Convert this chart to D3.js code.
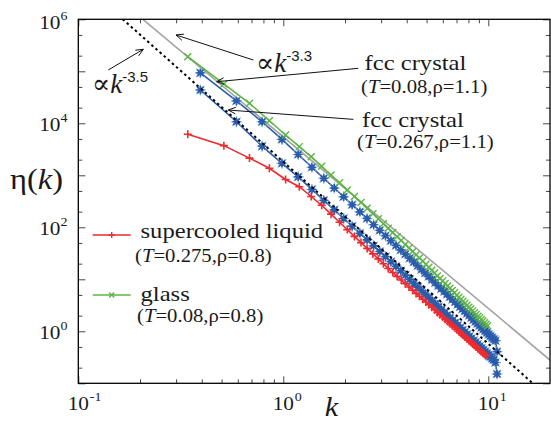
<!DOCTYPE html>
<html>
<head>
<meta charset="utf-8">
<script src="https://cdn.jsdelivr.net/npm/d3@7"></script>
<style>
    body { margin: 0; background: #fff; }
    svg { display: block; }
</style>
</head>
<body>
<div id="chart"></div>
<script>
// ---- values ----
// glass (T=0.08, rho=0.8) and supercooled liquid share the k grid
const kGlass = [0.342, 0.513, 0.684, 0.855, 1.026, 1.197, 1.368, 1.539, 1.710, 1.881,
    2.052, 2.223, 2.394, 2.565, 2.736, 2.907, 3.078, 3.249, 3.420, 3.591,
    3.762, 3.933, 4.104, 4.275, 4.446, 4.617, 4.788, 4.959, 5.130, 5.301,
    5.472, 5.643, 5.814, 5.985, 6.156, 6.327, 6.498, 6.669, 6.840, 7.011,
    7.182, 7.353, 7.524, 7.695, 7.866, 8.037, 8.208, 8.379, 8.550, 8.721,
    8.892, 9.063, 9.234, 9.405, 9.576, 9.747, 9.918];

const etaGlass = [1.91e5, 5.71e4, 2.43e4, 1.12e4, 5960, 3560, 2280, 1490, 1014, 719,
    524, 391, 299, 232, 182, 146, 117, 95.5, 79.1, 65.9,
    55.6, 46.8, 40.1, 34.3, 29.6, 25.8, 22.3, 19.5, 17.0, 15.0,
    13.2, 11.6, 10.4, 9.29, 8.34, 7.46, 6.70, 6.07, 5.50, 4.95,
    4.52, 4.14, 3.78, 3.45, 3.16, 2.90, 2.68, 2.47, 2.28, 2.10,
    1.95, 1.82, 1.69, 1.57, 1.46, 1.36, 1.28];

const etaLiquid = [6170, 3720, 2140, 1365, 832, 603, 391, 265, 179, 125,
    90.4, 66.8, 50.8, 39.3, 30.8, 24.7, 19.9, 16.1, 13.5, 11.4,
    9.68, 8.24, 7.13, 6.15, 5.36, 4.71, 4.14, 3.66, 3.24, 2.90,
    2.59, 2.31, 2.09, 1.88, 1.71, 1.55, 1.41, 1.29, 1.18, 1.08,
    0.993, 0.916, 0.845, 0.780, 0.718, 0.668, 0.621, 0.577, 0.537, 0.499,
    0.468, 0.439, 0.411, 0.385, 0.361, 0.338];

// fcc crystals (rho=1.1)
const kFcc = [0.394, 0.591, 0.788, 0.985, 1.182, 1.379, 1.576, 1.773, 1.970, 2.167,
    2.364, 2.561, 2.758, 2.955, 3.152, 3.349, 3.546, 3.743, 3.940, 4.137,
    4.334, 4.531, 4.728, 4.925, 5.122, 5.319, 5.516, 5.713, 5.910, 6.107,
    6.304, 6.501, 6.698, 6.895, 7.092, 7.289, 7.486, 7.683, 7.880, 8.077,
    8.274, 8.471, 8.668, 8.865, 9.062, 9.259, 9.456, 9.653, 9.850, 10.047,
    10.244, 10.441, 10.638, 10.835, 11.032];

const etaFccCold = [9.33e4, 2.69e4, 1.07e4, 4900, 2510, 1426, 875, 569, 386, 272,
    198, 148, 112, 87.5, 69.0, 55.2, 44.8, 36.7, 30.5, 25.5,
    21.5, 18.2, 15.5, 13.2, 11.4, 9.86, 8.59, 7.52, 6.61, 5.82,
    5.16, 4.59, 4.10, 3.67, 3.30, 2.96, 2.68, 2.43, 2.21, 2.01,
    1.83, 1.67, 1.53, 1.41, 1.29, 1.19, 1.10, 1.02, 0.942, 0.875,
    0.813, 0.757, 0.705, 0.661, 0.407];

const etaFccWarm = [4.37e4, 1.07e4, 3630, 1700, 933, 535, 330, 216, 148, 105,
    76.7, 57.4, 44.0, 34.3, 27.2, 21.8, 17.8, 14.6, 12.0, 10.0,
    8.37, 7.08, 6.03, 5.18, 4.46, 3.86, 3.37, 2.95, 2.59, 2.29,
    2.03, 1.81, 1.62, 1.45, 1.30, 1.17, 1.06, 0.964, 0.875, 0.798,
    0.728, 0.665, 0.611, 0.561, 0.516, 0.475, 0.440, 0.406, 0.377, 0.349,
    0.324, 0.302, 0.282, 0.251, 0.151];

// power-law guide lines, end points
const guideK33 = [0.2, 20];
const guideEta33 = [1.11e6, 0.28];
const guideK35 = [0.15, 20];
const guideEta35 = [1.39e6, 0.0508];

// arrows: [tail k, tail eta, head k, head eta]
const arrows = [
    [0.714, 1.65e5, 0.2996, 4.99e5],
    [0.140, 1.06e5, 0.2076, 2.65e5],
    [2.32, 1.14e5, 0.473, 6.31e4],
    [2.196, 1.19e4, 0.539, 1.80e4]
];

// ticks
const xMajor = [0.1, 1, 10];
const xMinor = [0.2, 0.3, 0.4, 0.5, 0.6, 0.7, 0.8, 0.9, 2, 3, 4, 5, 6, 7, 8, 9];
const xLabels = [["10", "-1"], ["10", "0"], ["10", "1"]];
const yMajor = [0.1, 1, 10, 100, 1e3, 1e4, 1e5, 1e6];
const yMinor = [0.2, 0.5, 2, 5, 20, 50, 200, 500, 2e3, 5e3, 2e4, 5e4, 2e5, 5e5];
const yLabelVals = [1, 100, 1e4, 1e6];
const yLabels = [["10", "0"], ["10", "2"], ["10", "4"], ["10", "6"]];

// ---- drawing ----
const SERIF = "'Liberation Serif', 'Times New Roman', serif";
const SANS = "'Liberation Sans', Arial, sans-serif";
const SX = 1.12;           // widen Times toward Computer Modern proportions
const INK = "#1a1a1a";
const RED = "#ee2a2e", GREEN = "#5db543", BLUE = "#2a5cab", BLUE_LIGHT = "#7ea8e4";

const width = 551, height = 424;
const plot = {left: 78.3, right: 550, top: 19.3, bottom: 383.3};

const svg = d3.select("#chart").append("svg")
    .attr("width", width)
    .attr("height", height);

const x = d3.scaleLog().domain([0.1, 20]).range([plot.left, plot.right]);
const y = d3.scaleLog().domain([0.1, 1e6]).range([plot.bottom, plot.top]);

svg.append("clipPath").attr("id", "clip")
    .append("rect")
    .attr("x", plot.left).attr("y", plot.top)
    .attr("width", plot.right - plot.left).attr("height", plot.bottom - plot.top);

// tick marks, all pointing into the frame
function ticks(axisFn, scale, values, size, transform) {
    let g = svg.append("g")
        .attr("transform", transform)
        .call(axisFn(scale).tickValues(values).tickSizeInner(-size).tickSizeOuter(0).tickFormat(""));
    g.select(".domain").remove();
    g.selectAll("line").attr("stroke", "#333").attr("stroke-width", 0.9);
}
ticks(d3.axisBottom, x, xMajor, 7, `translate(0,${plot.bottom})`);
ticks(d3.axisBottom, x, xMinor, 4, `translate(0,${plot.bottom})`);
ticks(d3.axisTop, x, xMajor, 7, `translate(0,${plot.top})`);
ticks(d3.axisTop, x, xMinor, 4, `translate(0,${plot.top})`);
ticks(d3.axisLeft, y, yMajor, 7, `translate(${plot.left},0)`);
ticks(d3.axisLeft, y, yMinor, 4, `translate(${plot.left},0)`);
ticks(d3.axisRight, y, yMajor, 7, `translate(${plot.right},0)`);
ticks(d3.axisRight, y, yMinor, 4, `translate(${plot.right},0)`);

// text helper: serif text, optionally widened
function label(x0, y0, parts, anchor, sx) {
    let g = svg.append("g")
        .attr("transform", `translate(${x0},${y0}) scale(${sx === undefined ? SX : sx},1)`);
    let t = g.append("text")
        .attr("text-anchor", anchor || "start")
        .attr("font-family", SERIF)
        .attr("fill", INK);
    parts.forEach(p => {
        t.append("tspan")
            .text(p.t)
            .attr("font-size", p.size)
            .attr("font-style", p.it ? "italic" : null)
            .attr("font-family", p.ff || null)
            .attr("dy", p.dy || null);
    });
    return t;
}

// tick labels
xMajor.forEach((v, i) => {
    label(x(v), 409.5, [{t: xLabels[i][0], size: 19}], "middle");
    label(x(v) + 11.5, 400.5, [{t: xLabels[i][1], size: 12.5}], "start");
});
yLabelVals.forEach((v, i) => {
    let by = Math.max(y(v) + 7.5, 29);
    label(67.5, by, [{t: yLabels[i][0], size: 19}, {t: yLabels[i][1], size: 12.5, dy: -9}], "end");
});

// axis titles
label(10, 188.5, [{t: "η", size: 29}, {t: "(", size: 29}, {t: "k", size: 29, it: true}, {t: ")", size: 29}], "start");
label(331.5, 416, [{t: "k", size: 27, it: true}], "middle");

// ---- plot content ----
const content = svg.append("g").attr("clip-path", "url(#clip)");
const line = d3.line().x(d => x(d[0])).y(d => y(d[1]));

const plus = s => `M${-s},0H${s}M0,${-s}V${s}`;
const cross = s => `M${-s},${-s}L${s},${s}M${-s},${s}L${s},${-s}`;

// gray k^-3.3 guide
content.append("path")
    .attr("d", line(d3.zip(guideK33, guideEta33)))
    .attr("fill", "none").attr("stroke", "#a3a3a3").attr("stroke-width", 1.6);

function series(ks, etas, colour, markers) {
    let pts = d3.zip(ks, etas);
    let g = content.append("g");
    g.append("path")
        .attr("d", line(pts))
        .attr("fill", "none").attr("stroke", colour).attr("stroke-width", 1.6);
    markers.forEach(m => {
        g.selectAll(null)
            .data(pts)
            .enter()
            .append("path")
            .attr("transform", d => `translate(${x(d[0])},${y(d[1])})`)
            .attr("d", m.d)
            .attr("fill", "none")
            .attr("stroke", m.c)
            .attr("stroke-width", m.w);
    });
}

const starOuter = {d: plus(5.5) + cross(4.2), c: BLUE_LIGHT, w: 1.1};
const starInner = {d: plus(4) + cross(3.2), c: BLUE, w: 1.7};

series(kFcc, etaFccCold, BLUE, [starOuter, starInner]);
series(kFcc, etaFccWarm, BLUE, [starOuter, starInner]);
series(kGlass, etaLiquid, RED, [{d: plus(4), c: RED, w: 1.6}]);
series(kGlass, etaGlass, GREEN, [{d: cross(3.5), c: GREEN, w: 1.4}]);

// dotted k^-3.5 guide
content.append("path")
    .attr("d", line(d3.zip(guideK35, guideEta35)))
    .attr("fill", "none").attr("stroke", "#000").attr("stroke-width", 2)
    .attr("stroke-dasharray", "2.5,3");

// frame
svg.append("rect")
    .attr("x", plot.left).attr("y", plot.top)
    .attr("width", plot.right - plot.left).attr("height", plot.bottom - plot.top)
    .attr("fill", "none").attr("stroke", "#000").attr("stroke-width", 1.3);

// ---- annotations ----
arrows.forEach(a => {
    let x1 = x(a[0]), y1 = y(a[1]), x2 = x(a[2]), y2 = y(a[3]);
    let ang = Math.atan2(y1 - y2, x1 - x2);
    let L = 8, spread = 0.42;
    let g = svg.append("g").attr("stroke", "#111").attr("stroke-width", 1).attr("fill", "none");
    g.append("line").attr("x1", x1).attr("y1", y1).attr("x2", x2).attr("y2", y2);
    g.append("path").attr("d",
        `M${x2 + L * Math.cos(ang + spread)},${y2 + L * Math.sin(ang + spread)}` +
        `L${x2},${y2}` +
        `L${x2 + L * Math.cos(ang - spread)},${y2 + L * Math.sin(ang - spread)}`);
});

label(256, 71.5, [
    {t: "∝", size: 27, ff: "'DejaVu Serif', serif"},
    {t: "k", size: 27, it: true},
    {t: "-3.3", size: 15, ff: SANS, dy: -11}
], "start", 1);
label(92, 93, [
    {t: "∝", size: 27, ff: "'DejaVu Serif', serif"},
    {t: "k", size: 27, it: true},
    {t: "-3.5", size: 15, ff: SANS, dy: -11}
], "start", 1);

label(364.5, 70, [{t: "fcc crystal", size: 22}]);
label(361, 93, [{t: "(", size: 18.5}, {t: "T", size: 18.5, it: true}, {t: "=0.08,ρ=1.1)", size: 18.5}]);
label(362, 126.7, [{t: "fcc crystal", size: 22}]);
label(357, 148, [{t: "(", size: 18.5}, {t: "T", size: 18.5, it: true}, {t: "=0.267,ρ=1.1)", size: 18.5}]);

// legend
const legend = svg.append("g");
legend.append("line").attr("x1", 92.7).attr("x2", 130.7).attr("y1", 235).attr("y2", 235)
    .attr("stroke", RED).attr("stroke-width", 1.6);
legend.append("path").attr("transform", "translate(111.7,235)").attr("d", plus(3))
    .attr("stroke", RED).attr("stroke-width", 1.4).attr("fill", "none");
legend.append("line").attr("x1", 92.7).attr("x2", 130.7).attr("y1", 295).attr("y2", 295)
    .attr("stroke", GREEN).attr("stroke-width", 1.6);
legend.append("path").attr("transform", "translate(111.7,295)").attr("d", cross(2.6))
    .attr("stroke", GREEN).attr("stroke-width", 1.4).attr("fill", "none");

label(140.5, 238, [{t: "supercooled liquid", size: 22}]);
label(135, 262, [{t: "(", size: 18.5}, {t: "T", size: 18.5, it: true}, {t: "=0.275,ρ=0.8)", size: 18.5}]);
label(140.5, 300.5, [{t: "glass", size: 22}]);
label(137, 322, [{t: "(", size: 18.5}, {t: "T", size: 18.5, it: true}, {t: "=0.08,ρ=0.8)", size: 18.5}]);
</script>
</body>
</html>
